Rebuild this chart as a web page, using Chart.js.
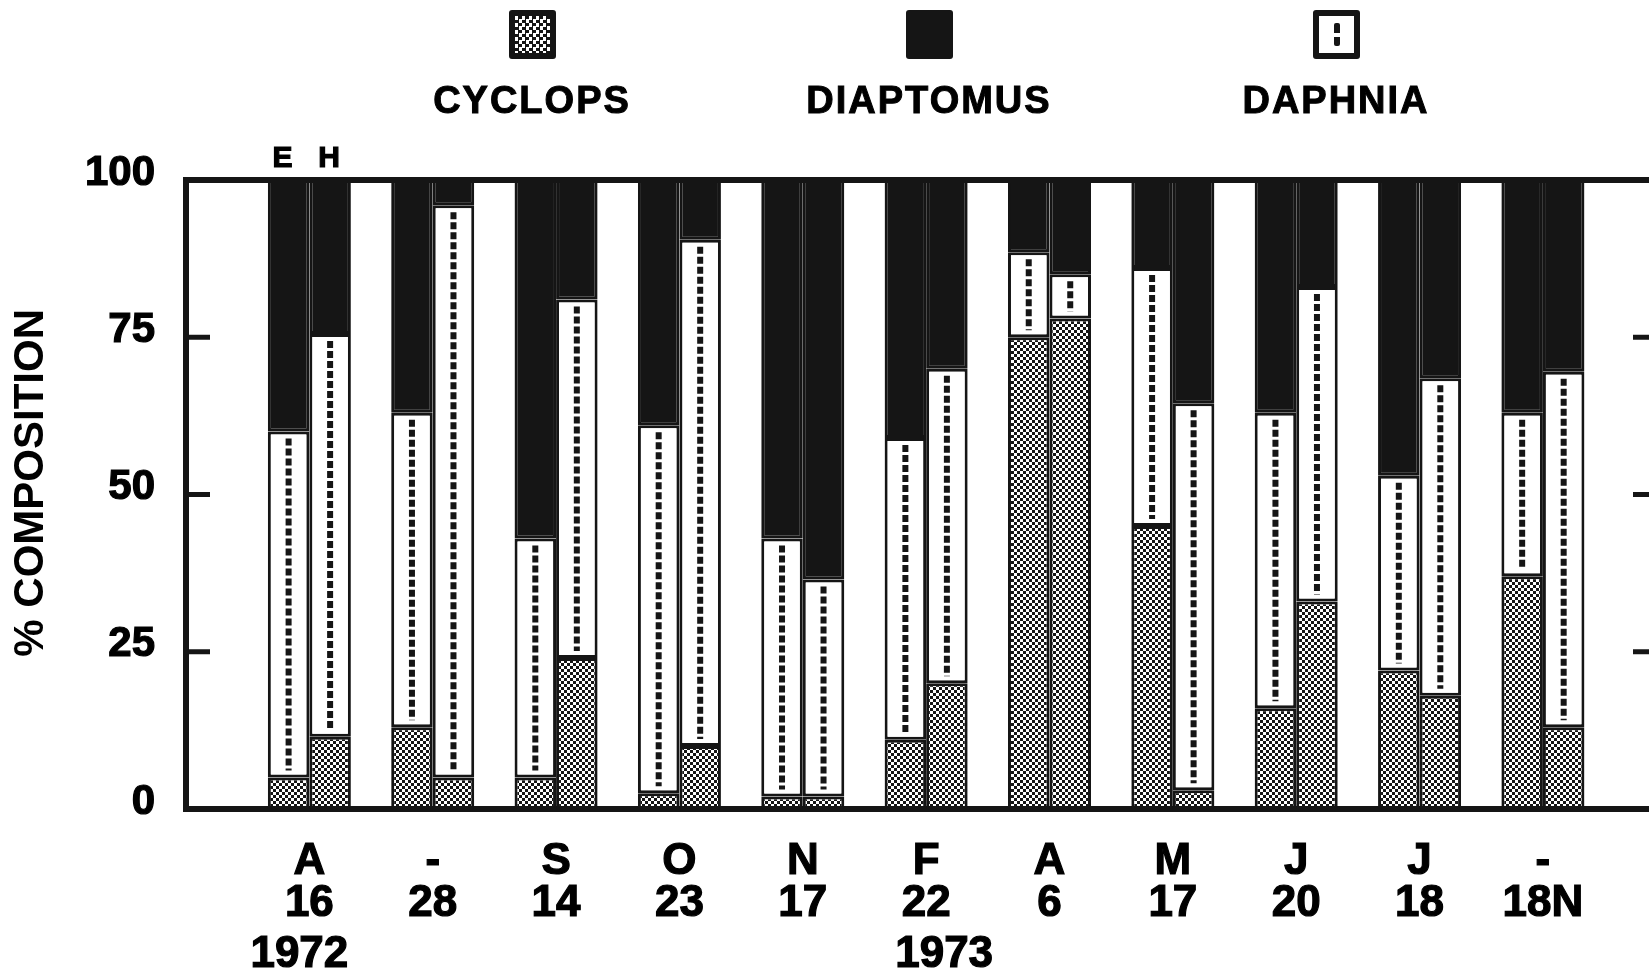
<!DOCTYPE html>
<html><head><meta charset="utf-8">
<script src="https://cdn.jsdelivr.net/npm/chart.js@4.4.1/dist/chart.umd.min.js"></script>
<style>
html,body{margin:0;padding:0;background:#fff;}
#wrap{position:relative;width:1649px;height:980px;overflow:hidden;background:#fff;}
#c{position:absolute;left:0;top:0;}
.leg{position:absolute;top:0;width:320px;margin-left:-160px;height:130px;font-family:"Liberation Sans",Arial,sans-serif;font-weight:700;}
.box{position:absolute;top:10px;left:50%;width:47px;height:49px;margin-left:-23px;box-sizing:border-box;border-radius:3px;}
.lab{position:absolute;top:80px;left:0;width:320px;text-align:center;font-size:38px;letter-spacing:2px;line-height:40px;color:#000;-webkit-text-stroke:1px #000;}
#bc{border:6px solid #151515;background:repeating-conic-gradient(#151515 0% 25%,#fff 0% 50%) 0 0/7px 7px;}
#bd{background:#151515;}
#bp{border:6px solid #151515;background:#fff;}
#bp i{position:absolute;left:50%;top:7px;width:6px;margin-left:-3px;height:23px;background:repeating-linear-gradient(#151515 0 10px,transparent 10px 14px);border-radius:2px;}
</style></head>
<body><div id="wrap">
<canvas id="c" width="1649" height="980"></canvas>
<div class="leg" style="left:532px"><div class="box" id="bc"></div><div class="lab">CYCLOPS</div></div>
<div class="leg" style="left:929px"><div class="box" id="bd"></div><div class="lab">DIAPTOMUS</div></div>
<div class="leg" style="left:1336px"><div class="box" id="bp"><i></i></div><div class="lab">DAPHNIA</div></div>
</div>
<script>
// ---- data ----
const months = ['A','-','S','O','N','F','A','M','J','J','-'];
const days   = ['16','28','14','23','17','22','6','17','20','18','18N'];
const years  = ['1972','','','','','1973','','','','',''];
const barNames = ['E','H'];
const yTicks = [0,25,50,75,100];

const cyclopsE   = [5, 13, 5, 2.5, 2, 11, 75, 45, 16, 22, 37];
const daphniaE   = [55, 50, 38, 58.5, 41, 48, 13.5, 41, 47, 31, 26];
const diaptomusE = [40, 37, 57, 39, 57, 41, 11.5, 14, 37, 47, 37];

const cyclopsH   = [11.5, 5, 24, 10, 2, 20, 78, 3, 33, 18, 13];
const daphniaH   = [64, 91, 57, 80.5, 34.5, 50, 7, 61.5, 50, 50.5, 56.5];
const diaptomusH = [24.5, 4, 19, 9.5, 63.5, 30, 15, 35.5, 17, 31.5, 30.5];

// ---- styling ----
const INK = '#151515';
const BW = 3;
const FONT = '"Liberation Sans", Arial, sans-serif';
Chart.defaults.font.family = FONT;
Chart.defaults.color = '#000';

const canvas = document.getElementById('c');
const ctx0 = canvas.getContext('2d');
function checker(){
  const t = document.createElement('canvas'); t.width = 6; t.height = 6;
  const g = t.getContext('2d');
  g.fillStyle = '#fff'; g.fillRect(0,0,6,6);
  g.fillStyle = INK; g.fillRect(0,0,3,3); g.fillRect(3,3,3,3);
  return ctx0.createPattern(t, 'repeat');
}
const GREY = checker();

const toXY = arr => arr.map((v, i) => ({x: i + 1, y: v}));
function ds(label, stack, arr, bg){
  return {label, stack, data: toXY(arr), backgroundColor: bg, borderColor: INK,
          borderWidth: BW, borderSkipped: false, categoryPercentage: 0.673, barPercentage: 1};
}

const decor = {
  id: 'decor',
  afterDatasetsDraw(chart){
    const ctx = chart.ctx;
    ctx.save();
    chart.data.datasets.forEach((d, di) => {
      if (d.label !== 'Daphnia') return;
      chart.getDatasetMeta(di).data.forEach(el => {
        const p = el.getProps(['x','y','base'], true);
        const top = Math.min(p.y, p.base) + BW + 4;
        const bot = Math.max(p.y, p.base) - BW - 4;
        if (bot - top < 4) return;
        ctx.beginPath();
        ctx.strokeStyle = INK; ctx.lineWidth = 6; ctx.lineCap = 'butt';
        ctx.setLineDash([7, 3]);
        ctx.moveTo(p.x, top); ctx.lineTo(p.x, bot); ctx.stroke();
      });
    });
    ctx.restore();
  },
  afterDraw(chart){
    const ctx = chart.ctx, a = chart.chartArea, ys = chart.scales.y, xs = chart.scales.x;
    ctx.save();
    ctx.strokeStyle = INK; ctx.lineCap = 'butt'; ctx.setLineDash([]);
    ctx.lineWidth = 6;
    ctx.beginPath(); ctx.moveTo(a.left - 3, a.top); ctx.lineTo(a.right, a.top); ctx.stroke();
    ctx.lineWidth = 5;
    [25, 50, 75].forEach(v => {
      const y = ys.getPixelForValue(v);
      ctx.beginPath(); ctx.moveTo(a.left, y); ctx.lineTo(a.left + 24, y); ctx.stroke();
      ctx.beginPath(); ctx.moveTo(a.right - 16, y); ctx.lineTo(a.right, y); ctx.stroke();
    });
    ctx.fillStyle = '#000';
    ctx.lineWidth = 1.2; ctx.strokeStyle = '#000';
    ctx.font = 'bold 30px ' + FONT;
    ctx.textAlign = 'center'; ctx.textBaseline = 'middle';
    const mE = chart.getDatasetMeta(0).data[0], mH = chart.getDatasetMeta(3).data[0];
    [[barNames[0], mE.x - 6], [barNames[1], mH.x - 1]].forEach(([t, x]) => {
      ctx.fillText(t, x, a.top - 21); ctx.strokeText(t, x, a.top - 21);
    });
    ctx.font = 'bold 44px ' + FONT;
    const shift = {0: -10, 5: 18};
    years.forEach((yr, i) => {
      if (!yr) return;
      const x = xs.getPixelForValue(i + 1) + (shift[i] || 0), y = a.bottom + 146;
      ctx.fillText(yr, x, y); ctx.strokeText(yr, x, y);
    });
    ctx.restore();
  }
};

new Chart(canvas, {
  type: 'bar',
  data: {
    datasets: [
      ds('Cyclops', 'E', cyclopsE, GREY),
      ds('Daphnia', 'E', daphniaE, '#fff'),
      ds('Diaptomus', 'E', diaptomusE, INK),
      ds('Cyclops', 'H', cyclopsH, GREY),
      ds('Daphnia', 'H', daphniaH, '#fff'),
      ds('Diaptomus', 'H', diaptomusH, INK)
    ]
  },
  options: {
    responsive: false, animation: false, devicePixelRatio: 1,
    layout: {padding: {top: 180, left: 0, right: 0, bottom: 0}},
    plugins: {legend: {display: false}, tooltip: {enabled: false}},
    scales: {
      x: {
        type: 'linear', min: 0, max: 11.86, offset: false,
        grid: {display: false, drawTicks: false},
        border: {display: true, color: INK, width: 6},
        afterBuildTicks: s => { s.ticks = months.map((m, i) => ({value: i + 1})); },
        afterFit: s => { s.height = 171; },
        ticks: {
          autoSkip: false, maxRotation: 0, minRotation: 0, padding: 32, color: '#000',
          textStrokeColor: '#000', textStrokeWidth: 1.2,
          font: {size: 44, weight: 'bold', lineHeight: 0.95},
          callback: v => { const i = Math.round(v) - 1; return [months[i], days[i]]; }
        }
      },
      y: {
        stacked: true, min: 0, max: 100,
        grid: {display: false, drawTicks: false},
        border: {display: true, color: INK, width: 6},
        afterBuildTicks: s => { s.ticks = yTicks.map(v => ({value: v})); },
        afterFit: s => { s.width = 186; },
        ticks: {padding: 31, labelOffset: -7, color: '#000', textStrokeColor: '#000', textStrokeWidth: 1.2,
                font: {size: 42, weight: 'bold'}},
        title: {display: true, text: '  % COMPOSITION', color: '#000',
                font: {size: 42, weight: 'bold', lineHeight: 1.2}, padding: {top: 6, bottom: 0}}
      }
    }
  },
  plugins: [decor]
});
</script>
</body></html>
